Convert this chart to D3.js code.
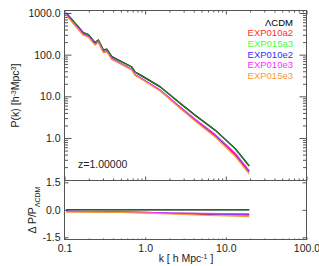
<!DOCTYPE html>
<html>
<head>
<meta charset="utf-8">
<script src="https://cdn.jsdelivr.net/npm/d3@7"></script>
<style>
  body { margin: 0; background: #fff; }
  svg { display: block; font-family: "Liberation Sans", Arial, sans-serif; }
  .axis path { stroke: none; }
  .axis line { stroke: #555; }
  .axis text { font-size: 10.5px; fill: #222; font-family: "Liberation Sans", Arial, sans-serif; }
</style>
</head>
<body>
<svg id="chart" width="319" height="266"></svg>
<script>
// wavenumbers of the power spectrum curves (h/Mpc)
const kVals = [0.105, 0.171, 0.198, 0.239, 0.263, 0.303, 0.334, 0.386, 0.68, 0.75, 0.87, 1.53, 2.72, 4.18, 7.41, 13.1, 19.5];

// P(k) for each model
const pLCDM     = [1000, 336, 301, 194, 225, 129, 135, 89, 51, 38, 32.5, 17.0, 6.8, 3.5, 1.53, 0.55, 0.213];
const pEXP010a2 = [900, 299, 268, 173, 200, 114, 119, 78, 43.9, 32.5, 27.5, 13.9, 5.30, 2.66, 1.12, 0.39, 0.149];
const pEXP015a3 = [995, 334, 299, 193, 224, 128, 134, 88.5, 50.7, 37.8, 32.3, 16.9, 6.77, 3.48, 1.52, 0.547, 0.212];
const pEXP010e2 = [920, 306, 274, 177, 205, 116, 122, 80, 44.9, 33.1, 28.1, 14.3, 5.51, 2.77, 1.18, 0.415, 0.160];
const pEXP010e3 = [920, 306, 274, 177, 205, 116, 122, 80, 44.9, 33.1, 28.1, 14.3, 5.58, 2.84, 1.21, 0.432, 0.166];
const pEXP015e3 = [880, 292, 262, 169, 196, 111, 116, 76.5, 42.8, 31.5, 26.7, 13.4, 5.10, 2.52, 1.04, 0.358, 0.136];

// relative difference to LCDM, lower panel
const kDelta     = [0.105, 0.2, 0.5, 1, 2, 5, 10, 19.5];
const dLCDM      = [0, 0, 0, 0, 0, 0, 0, 0];
const dEXP010a2  = [-0.10, -0.11, -0.13, -0.16, -0.20, -0.25, -0.28, -0.30];
const dEXP015a3  = [0, 0, 0, 0, 0, 0, 0, 0];
const dEXP010e2  = [-0.08, -0.09, -0.11, -0.14, -0.17, -0.21, -0.24, -0.25];
const dEXP010e3  = [-0.08, -0.09, -0.11, -0.14, -0.17, -0.19, -0.21, -0.22];
const dEXP015e3  = [-0.12, -0.13, -0.15, -0.18, -0.23, -0.30, -0.34, -0.37];

const modelNames  = ["\u039BCDM", "EXP010a2", "EXP015a3", "EXP010e2", "EXP010e3", "EXP015e3"];
const modelColors = ["#000000", "#ff3030", "#33dd33", "#3030ff", "#ff30ff", "#ff9933"];
const pSeries = [pLCDM, pEXP010a2, pEXP015a3, pEXP010e2, pEXP010e3, pEXP015e3];
const dSeries = [dLCDM, dEXP010a2, dEXP015a3, dEXP010e2, dEXP010e3, dEXP015e3];

const xTicks = [0.1, 1, 10, 100];
const xTickLabels = ["0.1", "1.0", "10.0", "100.0"];
const yTicksTop = [1, 10, 100, 1000];
const yTicksBottom = [-1.5, 0, 1.5];
const redshiftLabel = "z=1.00000";

const svg = d3.select("#chart");
const pLeft = 64.5, pRight = 306.5, pTop = 10.5, pMid = 180.5, pBottom = 239.5;

const x = d3.scaleLog().domain([0.1, 100]).range([pLeft, pRight]);
const yTop = d3.scaleLog().domain([0.0955, 1148]).range([pMid, pTop]);
const yBot = d3.scaleLinear().domain([-1.62, 1.6]).range([pBottom, pMid]);

// minor ticks for log axes
function minors(lo, hi) {
  const out = [];
  for (let e = -2; e <= 3; e++) {
    for (let m = 2; m <= 9; m++) {
      const v = m * Math.pow(10, e);
      if (v > lo && v < hi) out.push(v);
    }
  }
  return out;
}
const xMinor = minors(0.1, 100);
const yMinor = minors(0.0955, 1148);

function addAxis(axis, tx, ty) {
  return svg.append("g").attr("class", "axis")
    .attr("transform", `translate(${tx},${ty})`).call(axis);
}

// ---- upper panel axes ----
addAxis(d3.axisLeft(yTop).tickValues(yTicksTop).tickSize(-7).tickPadding(4)
  .tickFormat(d => d.toFixed(1)), pLeft, 0);
addAxis(d3.axisLeft(yTop).tickValues(yMinor).tickSize(-3.5).tickFormat(""), pLeft, 0);
addAxis(d3.axisRight(yTop).tickValues(yTicksTop).tickSize(-7).tickFormat(""), pRight, 0);
addAxis(d3.axisRight(yTop).tickValues(yMinor).tickSize(-3.5).tickFormat(""), pRight, 0);
addAxis(d3.axisBottom(x).tickValues(xTicks).tickSize(-4).tickFormat(""), 0, pMid);
addAxis(d3.axisBottom(x).tickValues(xMinor).tickSize(-2).tickFormat(""), 0, pMid);
addAxis(d3.axisTop(x).tickValues(xTicks).tickSize(-4).tickFormat(""), 0, pTop);
addAxis(d3.axisTop(x).tickValues(xMinor).tickSize(-2).tickFormat(""), 0, pTop);

// ---- lower panel axes ----
addAxis(d3.axisLeft(yBot).tickValues(yTicksBottom).tickSize(-4).tickPadding(4)
  .tickFormat(d => d.toFixed(1)), pLeft, 0);
addAxis(d3.axisRight(yBot).tickValues(yTicksBottom).tickSize(-4).tickFormat(""), pRight, 0);
addAxis(d3.axisBottom(x).tickValues(xTicks).tickSize(-2).tickPadding(5)
  .tickFormat((d, i) => xTickLabels[i]), 0, pBottom);
addAxis(d3.axisBottom(x).tickValues(xMinor).tickSize(-1).tickFormat(""), 0, pBottom);

// frames
svg.append("rect").attr("x", pLeft).attr("y", pTop).attr("width", pRight - pLeft).attr("height", pMid - pTop)
  .attr("fill", "none").attr("stroke", "#555");
svg.append("rect").attr("x", pLeft).attr("y", pMid).attr("width", pRight - pLeft).attr("height", pBottom - pMid)
  .attr("fill", "none").attr("stroke", "#555");

// ---- curves ----
const lineTop = d3.line().x(d => x(d[0])).y(d => yTop(d[1]));
const lineBot = d3.line().x(d => x(d[0])).y(d => yBot(d[1]));

pSeries.forEach((p, i) => {
  svg.append("path")
    .attr("d", lineTop(kVals.map((k, j) => [k, p[j]])))
    .attr("fill", "none")
    .attr("stroke", modelColors[i])
    .attr("stroke-width", i === 0 ? 1.5 : 1.1)
    .attr("stroke-opacity", i === 2 ? 0.65 : 1)
    .attr("stroke-linejoin", "round");
});

dSeries.forEach((dd, i) => {
  svg.append("path")
    .attr("d", lineBot(kDelta.map((k, j) => [k, dd[j]])))
    .attr("fill", "none")
    .attr("stroke", modelColors[i])
    .attr("stroke-width", i === 0 ? 1.5 : 1.1)
    .attr("stroke-opacity", i === 2 ? 0.65 : 1);
});

// ---- legend ----
modelNames.forEach((name, i) => {
  svg.append("text")
    .attr("x", 293).attr("y", 25.5 + i * 10.7)
    .attr("text-anchor", "end")
    .attr("font-size", "9.5px")
    .attr("fill", i === 2 ? "#44ff44" : modelColors[i])
    .text(name);
});

svg.append("text")
  .attr("x", 78).attr("y", 168)
  .attr("font-size", "10.5px").attr("fill", "#222")
  .text(redshiftLabel);

// ---- axis titles ----
const yt = svg.append("text")
  .attr("transform", "translate(18.5,95.5) rotate(-90)")
  .attr("text-anchor", "middle")
  .attr("font-size", "10.5px").attr("fill", "#222");
yt.append("tspan").text("P(k) [h");
yt.append("tspan").attr("baseline-shift", "super").attr("font-size", "7px").text("-3");
yt.append("tspan").text("Mpc");
yt.append("tspan").attr("baseline-shift", "super").attr("font-size", "7px").text("3");
yt.append("tspan").text("]");

const yb = svg.append("text")
  .attr("transform", "translate(35.5,210) rotate(-90)")
  .attr("text-anchor", "middle")
  .attr("font-size", "10.5px").attr("fill", "#222");
yb.append("tspan").text("\u0394 P/P");
yb.append("tspan").attr("baseline-shift", "sub").attr("font-size", "7px").text("\u039BCDM");

const xt = svg.append("text")
  .attr("x", 186).attr("y", 261.5)
  .attr("text-anchor", "middle")
  .attr("font-size", "10.5px").attr("fill", "#222");
xt.append("tspan").text("k [ h Mpc");
xt.append("tspan").attr("baseline-shift", "super").attr("font-size", "7px").text("-1");
xt.append("tspan").text(" ]");
</script>
</body>
</html>
